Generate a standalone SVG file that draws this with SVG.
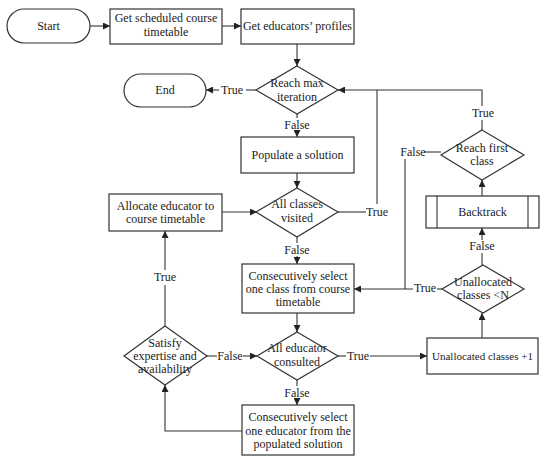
<svg xmlns="http://www.w3.org/2000/svg" width="550" height="460" viewBox="0 0 550 460">
<style>
.s{fill:#fff;stroke:#333;stroke-width:1.2}
.c{fill:none;stroke:#333;stroke-width:1.1}
text{font-family:"Liberation Serif","DejaVu Serif",serif;font-size:12px;fill:#222;text-anchor:middle}
</style>
<defs>
<marker id="a" viewBox="0 0 10 10" refX="10" refY="5" markerWidth="7" markerHeight="7" markerUnits="userSpaceOnUse" orient="auto"><path d="M0,0L10,5L0,10z" fill="#222"/></marker>
</defs>
<rect width="550" height="460" fill="#fff"/>
<g id="start"><rect class="s" x="7" y="9" width="83" height="34" rx="17"/><text x="48.5" y="30">Start</text></g>
<g id="getSched"><rect class="s" x="110" y="9" width="112" height="35"/><text x="166" y="22">Get scheduled course</text><text x="166" y="36">timetable</text></g>
<g id="getEdu"><rect class="s" x="241" y="9" width="113" height="35"/><text x="297.5" y="30">Get educators’ profiles</text></g>
<g id="reachMax"><path class="s" d="M297,66L338,90L297,114L256,90z"/><text x="297" y="87">Reach max</text><text x="297" y="101">iteration</text></g>
<g id="end"><rect class="s" x="124" y="74" width="82" height="33" rx="16.5"/><text x="165" y="94">End</text></g>
<g id="populate"><rect class="s" x="241" y="137" width="113" height="36"/><text x="297.5" y="159">Populate a solution</text></g>
<g id="allClasses"><path class="s" d="M297,188L338,212L297,237L256,212z"/><text x="297" y="208">All classes</text><text x="297" y="222">visited</text></g>
<g id="allocate"><rect class="s" x="109" y="194" width="113" height="37"/><text x="165.5" y="210">Allocate educator to</text><text x="165.5" y="223">course timetable</text></g>
<g id="consecClass"><rect class="s" x="242" y="264" width="112" height="49"/><text x="298" y="280">Consecutively select</text><text x="298" y="293">one class from course</text><text x="298" y="306">timetable</text></g>
<g id="allEdu"><path class="s" d="M297,332L338,356L297,380L257,356z"/><text x="297" y="352">All educator</text><text x="297" y="366">consulted</text></g>
<g id="satisfy"><path class="s" d="M165,326L207,356L165,385L124,356z"/><text x="165" y="347">Satisfy</text><text x="165" y="360">expertise and</text><text x="165" y="373">availability</text></g>
<g id="consecEdu"><rect class="s" x="242" y="405" width="112" height="50"/><text x="298" y="421">Consecutively select</text><text x="298" y="435">one educator from the</text><text x="298" y="448">populated solution</text></g>
<g id="reachFirst"><path class="s" d="M482,130L524,155L482,180L441,155z"/><text x="482" y="152">Reach first</text><text x="482" y="165">class</text></g>
<g id="backtrack"><rect class="s" x="426" y="196" width="113" height="32"/><line class="c" x1="437" y1="196" x2="437" y2="228"/><line class="c" x1="528" y1="196" x2="528" y2="228"/><text x="482.5" y="216">Backtrack</text></g>
<g id="unalloc"><path class="s" d="M483,265L524,289L483,313L442,289z"/><text x="483" y="286">Unallocated</text><text x="483" y="299">classes &lt;N</text></g>
<g id="unallocPlus"><rect class="s" x="427" y="338" width="111" height="36"/><text x="482.5" y="360" style="font-size:11px">Unallocated classes +1</text></g>
<g id="connectors">
<path class="c" d="M90,26H110" marker-end="url(#a)"/>
<path class="c" d="M222,26H241" marker-end="url(#a)"/>
<path class="c" d="M297,44V66" marker-end="url(#a)"/>
<path class="c" d="M256,90H246"/>
<path class="c" d="M219,90H206" marker-end="url(#a)"/>
<path class="c" d="M297,114V118"/>
<path class="c" d="M297,131V137" marker-end="url(#a)"/>
<path class="c" d="M297,173V188" marker-end="url(#a)"/>
<path class="c" d="M338,212H366"/>
<path class="c" d="M377,204V90"/>
<path class="c" d="M482,130V120"/>
<path class="c" d="M482,106V90H338" marker-end="url(#a)"/>
<path class="c" d="M297,237V243"/>
<path class="c" d="M297,256V264" marker-end="url(#a)"/>
<path class="c" d="M222,212H257" marker-end="url(#a)"/>
<path class="c" d="M297,313V332" marker-end="url(#a)"/>
<path class="c" d="M338,356H346"/>
<path class="c" d="M370,356H427" marker-end="url(#a)"/>
<path class="c" d="M297,380V386"/>
<path class="c" d="M297,399V405" marker-end="url(#a)"/>
<path class="c" d="M242,431H165V385" marker-end="url(#a)"/>
<path class="c" d="M207,356H217"/>
<path class="c" d="M243,356H257" marker-end="url(#a)"/>
<path class="c" d="M165,326V285"/>
<path class="c" d="M165,270V231" marker-end="url(#a)"/>
<path class="c" d="M482,338V313" marker-end="url(#a)"/>
<path class="c" d="M442,289H437"/>
<path class="c" d="M413,289H354" marker-end="url(#a)"/>
<path class="c" d="M405,159V289"/>
<path class="c" d="M441,152H424"/>
<path class="c" d="M482,265V253"/>
<path class="c" d="M482,240V228" marker-end="url(#a)"/>
<path class="c" d="M482,196V180" marker-end="url(#a)"/>
</g>
<g id="labels">
<text x="232" y="94">True</text>
<text x="297" y="129">False</text>
<text x="377" y="216">True</text>
<text x="483" y="117">True</text>
<text x="297" y="254">False</text>
<text x="358" y="360">True</text>
<text x="297" y="397">False</text>
<text x="230" y="360">False</text>
<text x="165" y="281">True</text>
<text x="425" y="292">True</text>
<text x="413" y="156">False</text>
<text x="482" y="250">False</text>
</g>
</svg>
